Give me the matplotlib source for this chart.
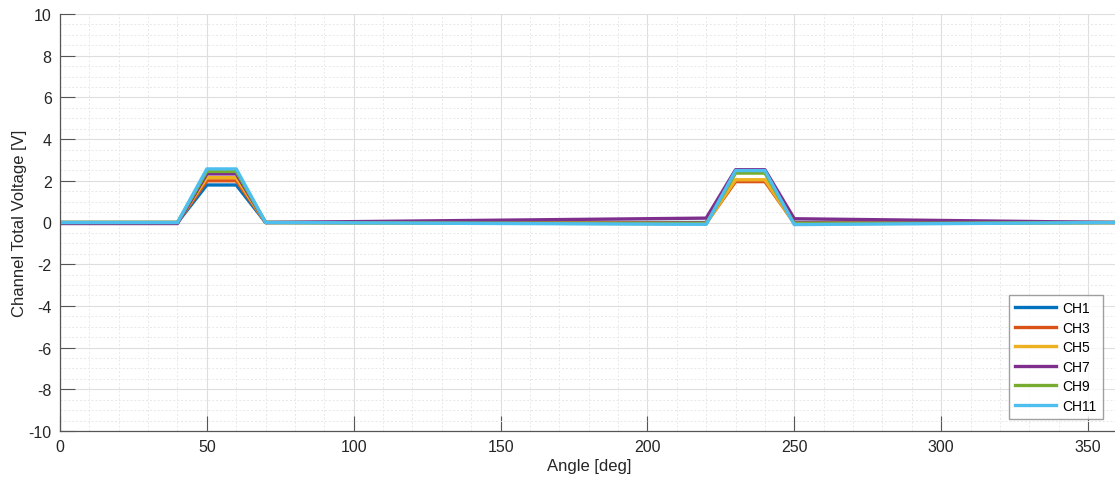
import matplotlib.pyplot as plt
from matplotlib.ticker import MultipleLocator

plt.rcParams["font.family"] = ["Liberation Sans", "DejaVu Sans"]
plt.rcParams["axes.unicode_minus"] = False

# Knot points (angle, voltage)
angle = [0, 40, 50, 60, 70, 220, 230, 240, 250, 360]

ch1 = [0.0, 0.0, 1.80, 1.80, 0.0, 0.00, 2.50, 2.50, 0.00, 0.00]
ch3 = [0.0, 0.0, 2.00, 2.00, 0.0, -0.03, 1.96, 1.96, -0.03, 0.00]
ch5 = [0.0, 0.0, 2.15, 2.15, 0.0, -0.05, 2.05, 2.05, -0.05, 0.00]
ch7 = [-0.05, -0.05, 2.33, 2.33, 0.0, 0.21, 2.53, 2.53, 0.18, 0.00]
ch9 = [0.0, 0.0, 2.45, 2.45, 0.0, -0.06, 2.37, 2.37, -0.06, 0.00]
ch11 = [0.0, 0.0, 2.57, 2.57, 0.0, -0.09, 2.49, 2.49, -0.10, 0.00]

series = [ch1, ch3, ch5, ch7, ch9, ch11]
names = ["CH1", "CH3", "CH5", "CH7", "CH9", "CH11"]
colors = ["#0072BD", "#D95319", "#EDB120", "#7E2F8E", "#77AC30", "#4DBEEE"]

fig = plt.figure(figsize=(11.15, 4.81), dpi=100)
ax_w = 1057.4
ax = fig.add_axes([60 / 1115, 49 / 481, ax_w / 1115, 417 / 481])

for vals, name, c in zip(series, names, colors):
    ax.plot(angle, vals, color=c, lw=2.4, label=name, solid_joinstyle="round")

ax.set_xlim(0, 360)
ax.set_ylim(-10, 10)
ax.xaxis.set_major_locator(MultipleLocator(50))
ax.xaxis.set_minor_locator(MultipleLocator(10))
ax.yaxis.set_major_locator(MultipleLocator(2))
ax.yaxis.set_minor_locator(MultipleLocator(0.5))

ax.grid(which="major", color="#dedede", lw=0.8, ls="-")
ax.grid(which="minor", color="#e8e8e8", lw=0.7, ls=(0, (2, 2)))
ax.set_axisbelow(True)

for s in ["top", "right"]:
    ax.spines[s].set_visible(False)
for s in ["left", "bottom"]:
    ax.spines[s].set_color("#555555")
    ax.spines[s].set_linewidth(0.9)

ax.tick_params(which="major", direction="in", length=10.5, width=0.8,
               color="#555555", labelsize=11.5, labelcolor="#262626")
ax.tick_params(which="minor", length=0)
ax.tick_params(axis="y", pad=6)
ax.tick_params(axis="x", pad=6)

ax.set_xlabel("Angle [deg]", fontsize=12, color="#262626", labelpad=3)
ax.set_ylabel("Channel Total Voltage [V]", fontsize=12, color="#262626", labelpad=1)

leg = ax.legend(loc="lower right", bbox_to_anchor=((1103 - 60) / ax_w, 12 / 417),
                borderaxespad=0, fontsize=10, frameon=True, fancybox=False,
                handlelength=2.9, labelspacing=0.4, borderpad=0.45,
                handletextpad=0.5)
leg.get_frame().set_edgecolor("#888888")
leg.get_frame().set_linewidth(1.0)
for line in leg.get_lines():
    line.set_linewidth(2.4)

fig.savefig("out.png", dpi=100)
